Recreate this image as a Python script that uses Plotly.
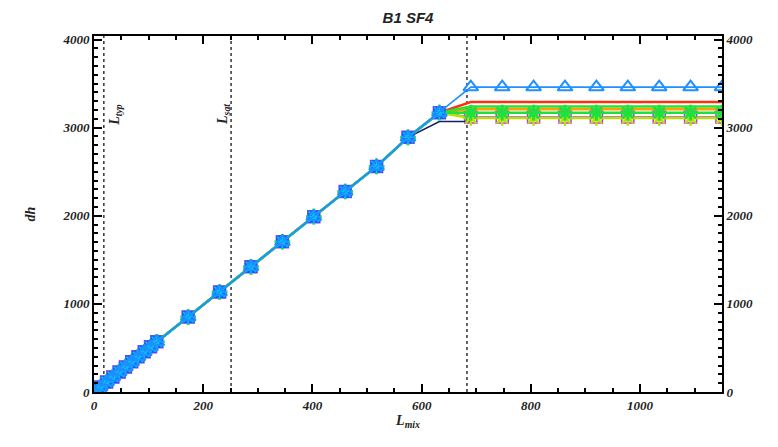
import plotly.graph_objects as go

# ---- data ----
L_mix = [0, 11.5, 23, 34.5, 46, 57.5, 69, 80.5, 92, 103.5, 115,
         172.5, 230, 287.5, 345, 402.5, 460, 517.5, 575, 632.5,
         690, 747.5, 805, 862.5, 920, 977.5, 1035, 1092.5, 1150]
dh_rise = [0, 57, 114, 171, 228, 285, 342, 399, 456, 513, 570,
           850, 1135, 1420, 1705, 1990, 2275, 2560, 2890, 3170]
plateau_tri = [3460] * 9
plateau_red = [3290] * 9
plateau_green_line = [3240] * 9
plateau_orange = [3210] * 9
plateau_star = [3170] * 9
plateau_yg = [3110] * 9
plateau_mag = [3120] * 9
navy_tail = [3070, 3070]

L_typ = 18
L_sat = 251
L_end = 683

yticks = [0, 1000, 2000, 3000, 4000]
xticks = [0, 200, 400, 600, 800, 1000]

fig = go.Figure()

def add(y, color, symbol=None, size=10, lw=1.6, x=None, mlw=1.5):
    xx = x if x is not None else L_mix[:len(y)]
    mode = "lines+markers" if symbol else "lines"
    kw = dict(x=xx, y=y, mode=mode, line=dict(color=color, width=lw),
              showlegend=False, hoverinfo="skip")
    if symbol:
        kw["marker"] = dict(symbol=symbol, size=size, color=color,
                            line=dict(color=color, width=mlw))
    fig.add_trace(go.Scatter(**kw))

add(dh_rise + plateau_mag, "#c020ff", "square-open", 12)
add(dh_rise[:19] + navy_tail, "#102060", None, lw=1.6,
    x=L_mix[:19] + [632.5, 690])
add(dh_rise + plateau_yg, "#b8e000", "asterisk-open", 13, lw=2.5, mlw=2.5)
add(dh_rise + plateau_orange, "#ffa000", None, lw=2.5)
add(dh_rise + plateau_red, "#ff3010", None, lw=2.5)
add(dh_rise + plateau_green_line, "#30e030", None, lw=2.5)
add(dh_rise + plateau_star, "#20e040", "asterisk-open", 13, lw=2.5, mlw=3)
add(dh_rise, "#1060ff", "square", 11)
add(dh_rise, "#00c8ff", "asterisk-open", 12, lw=2, mlw=1.5)
add(dh_rise + plateau_tri, "#1e90ff", "triangle-up-open", 13, lw=1.6, mlw=2)

# vertical dotted reference lines
for xv in [L_typ, L_sat, L_end]:
    fig.add_shape(type="line", x0=xv, x1=xv, y0=0, y1=1, xref="x", yref="paper",
                  line=dict(color="#333333", width=1.5, dash="dot"), layer="below")

lab_font = dict(family="Liberation Serif", size=14, color="#222222", style="italic", weight="bold")
fig.add_annotation(x=L_typ, y=3150, xref="x", yref="y", text="L<sub>typ</sub>",
                   textangle=-90, showarrow=False, xanchor="left", xshift=1, font=lab_font)
fig.add_annotation(x=L_sat, y=3150, xref="x", yref="y", text="L<sub>sat</sub>",
                   textangle=-90, showarrow=False, xanchor="right", xshift=3, font=lab_font)

tickfont = dict(family="Liberation Serif", size=13, color="#222222", style="italic", weight="bold")

fig.update_layout(
    width=778, height=447,
    margin=dict(l=86, r=64, t=28, b=63, autoexpand=False),
    paper_bgcolor="white", plot_bgcolor="white",
    title=dict(text="B1 SF4", x=0.5, xref="paper", xanchor="center", yref="container",
               y=1, yanchor="top", pad=dict(t=4),
               font=dict(family="Liberation Sans", size=15, color="#222222", style="italic", weight="bold")),
    xaxis=dict(range=[0, 1150], tickvals=xticks, ticks="inside", ticklen=8, tickwidth=2,
               tickcolor="black", showline=True, linecolor="black", linewidth=2,
               showgrid=False, zeroline=False, tickfont=tickfont,
               minor=dict(dtick=50, ticks="inside", ticklen=4, tickwidth=1.5, tickcolor="black"),
               title=dict(text="L<sub>mix</sub>", font=dict(family="Liberation Serif", size=14,
                          color="#222222", style="italic", weight="bold"), standoff=4)),
    xaxis2=dict(range=[0, 1150], overlaying="x", side="top", showticklabels=False,
                ticks="inside", ticklen=8, tickwidth=2, tickcolor="black", tickvals=xticks,
                showline=True, linecolor="black", linewidth=2, showgrid=False, zeroline=False,
                minor=dict(dtick=50, ticks="inside", ticklen=4, tickwidth=1.5, tickcolor="black")),
    yaxis=dict(range=[0, 4040], tickvals=yticks, ticks="inside", ticklen=8, tickwidth=2,
               tickcolor="black", showline=True, linecolor="black", linewidth=2,
               showgrid=False, zeroline=False, tickfont=tickfont,
               minor=dict(dtick=100, ticks="inside", ticklen=4, tickwidth=1.5, tickcolor="black"),
               title=dict(text="dh", font=dict(family="Liberation Serif", size=14,
                          color="#222222", style="italic", weight="bold"), standoff=24)),
    yaxis2=dict(range=[0, 4040], overlaying="y", side="right", tickvals=yticks,
                ticks="inside", ticklen=8, tickwidth=2, tickcolor="black",
                showline=True, linecolor="black", linewidth=2, showgrid=False, zeroline=False,
                tickfont=tickfont,
                minor=dict(dtick=100, ticks="inside", ticklen=4, tickwidth=1.5, tickcolor="black")),
)
# dummy trace to activate secondary axes
fig.add_trace(go.Scatter(x=[None], y=[None], xaxis="x2", yaxis="y2", showlegend=False))

fig.write_html("out.html")
